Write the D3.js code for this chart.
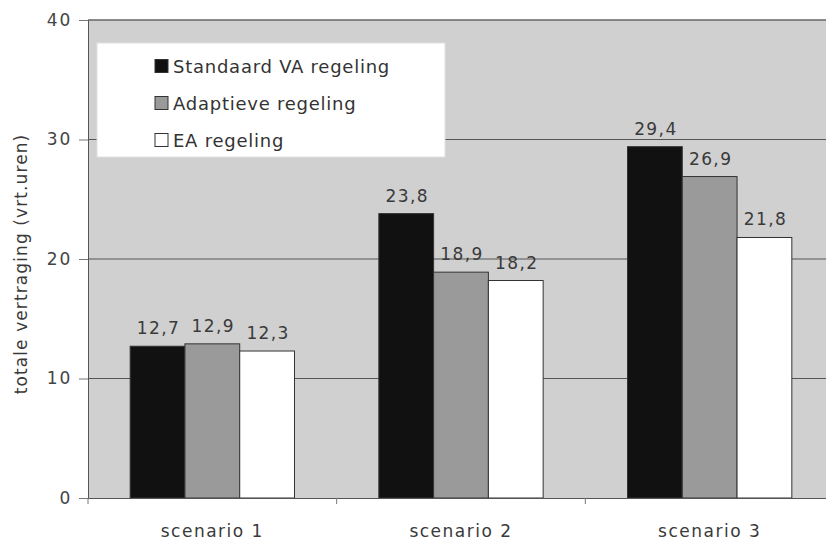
<!DOCTYPE html>
<html><head><meta charset="utf-8">
<script src="https://cdn.jsdelivr.net/npm/d3@7"></script>
<style>body{margin:0;background:#fff}svg{display:block}text{font-family:"DejaVu Sans",Verdana,sans-serif}</style>
</head><body><svg id="c" width="826" height="548"></svg>
<script>
const categories = ["scenario 1","scenario 2","scenario 3"];
const seriesNames = ["Standaard VA regeling","Adaptieve regeling","EA regeling"];
const standaardVA = [12.7, 23.8, 29.4];
const adaptief = [12.9, 18.9, 26.9];
const eaRegeling = [12.3, 18.2, 21.8];
const yTicks = [0,10,20,30,40];
const seriesValues = [standaardVA, adaptief, eaRegeling];
const colors = ["#111111","#9a9a9a","#ffffff"];

const svg = d3.select("#c");
const pL = 88, pT = 20, pB = 498, pR = 834;
const x = d3.scaleBand().domain(categories).range([pL, pR]).paddingInner(0).paddingOuter(0);
const xs = d3.scaleBand().domain(d3.range(3)).range([0, x.bandwidth()]).paddingOuter(0.77).paddingInner(0);
const y = d3.scaleLinear().domain([0,40]).range([pB, pT]);

svg.append("rect").attr("x",pL).attr("y",pT).attr("width",pR-pL).attr("height",pB-pT).attr("fill","#d0d0d0");
// gridlines
svg.append("g").selectAll("line").data(yTicks.filter(d=>d>0&&d<40)).join("line")
  .attr("x1",pL).attr("x2",pR).attr("y1",d=>y(d)).attr("y2",d=>y(d)).attr("stroke","#555").attr("stroke-width",1);
svg.append("line").attr("x1",pL).attr("x2",pR).attr("y1",pT).attr("y2",pT).attr("stroke","#666").attr("stroke-width",1.5);

// bars
const rows = [];
categories.forEach((c,i)=>seriesValues.forEach((s,j)=>rows.push({c,j,v:s[i]})));
svg.append("g").selectAll("rect").data(rows).join("rect")
  .attr("x",d=>x(d.c)+xs(d.j)).attr("width",xs.bandwidth())
  .attr("y",d=>y(d.v)).attr("height",d=>y(0)-y(d.v))
  .attr("fill",d=>colors[d.j]).attr("stroke","#333").attr("stroke-width",1);
svg.append("g").selectAll("text").data(rows).join("text")
  .attr("x",d=>x(d.c)+xs(d.j)+xs.bandwidth()/2+1).attr("y",d=>y(d.v)-12)
  .attr("text-anchor","middle").attr("font-size",17).attr("letter-spacing",1.4).attr("fill","#3a3a3a")
  .text(d=>d3.format(".1f")(d.v).replace(".",","));

// axes
const ya = svg.append("g").attr("transform",`translate(${pL},0)`)
  .call(d3.axisLeft(y).tickValues(yTicks).tickSize(9).tickPadding(7).tickFormat(d=>d));
ya.select(".domain").attr("stroke","#555");
ya.selectAll(".tick line").attr("stroke","#777");
ya.selectAll("text").attr("font-size",17).attr("letter-spacing",1.8).attr("fill","#444").attr("font-family","DejaVu Sans");
const xa = svg.append("g").attr("transform",`translate(0,${pB})`)
  .call(d3.axisBottom(x).tickSize(0).tickPadding(27));
xa.select(".domain").attr("stroke","#555").attr("stroke-width",1.2);
xa.selectAll("text").attr("font-size",17).attr("letter-spacing",1.5).attr("fill","#3a3a3a").attr("font-family","DejaVu Sans");
svg.append("g").selectAll("line").data(categories).join("line")
  .attr("x1",d=>x(d)).attr("x2",d=>x(d)).attr("y1",pB).attr("y2",pB+6).attr("stroke","#777");

svg.append("text").attr("transform","translate(27,264) rotate(-90)").attr("text-anchor","middle")
  .attr("font-size",17).attr("letter-spacing",1.1).attr("fill","#3a3a3a").text("totale vertraging (vrt.uren)");

// legend
const lg = svg.append("g");
lg.append("rect").attr("x",97).attr("y",43).attr("width",348).attr("height",114).attr("fill","#fff").attr("stroke","#e0e0e0");
seriesNames.forEach((n,i)=>{
  const yy = 66 + i*37;
  lg.append("rect").attr("x",155).attr("y",yy-6.5).attr("width",13).attr("height",13)
    .attr("fill",colors[i]).attr("stroke","#333").attr("stroke-width",1);
  lg.append("text").attr("x",173).attr("y",yy+7).attr("font-size",18).attr("letter-spacing",0.75).attr("fill","#333").text(n);
});
</script></body></html>
